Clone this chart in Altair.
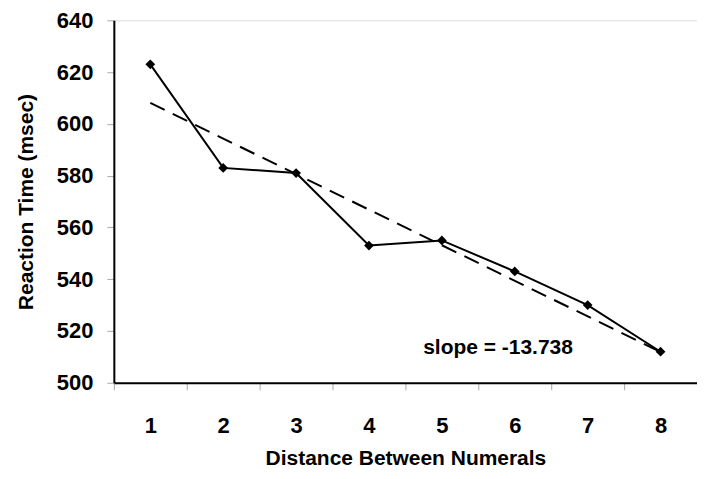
import altair as alt
import pandas as pd

distance = [1, 2, 3, 4, 5, 6, 7, 8]
reaction_time = [623, 583, 581, 553, 555, 543, 530, 512]
slope_label = ["slope = -13.738"]
slope_x = [5.77]
slope_y = [513.5]

df = pd.DataFrame({"x": distance, "y": reaction_time})
lab = pd.DataFrame({"x": slope_x, "y": slope_y, "t": slope_label})

FONT = "Liberation Sans"
W, H = 584, 363
band = W / 8.0

xscale = alt.Scale(domain=[0.5, 8.5], nice=False, zero=False)
yscale = alt.Scale(domain=[500, 640], nice=False, zero=False)

xaxis = alt.Axis(
    title="Distance Between Numerals",
    values=distance + [9],
    format="d",
    tickOffset=-band / 2,
    labelOffset=band / 2,
    labelExpr="datum.value > 8.5 ? '' : datum.label",
    labelOverlap=False,
    grid=False,
    tickColor="#aaaaaa",
    tickSize=7,
    tickWidth=1,
    labelPadding=26,
    labelFontSize=22,
    labelFontWeight="bold",
    labelFont=FONT,
    labelColor="black",
    titleFontSize=21,
    titleFontWeight="bold",
    titleFont=FONT,
    titleColor="black",
    titlePadding=11,
    domainColor="black",
    domainWidth=2,
)
yaxis = alt.Axis(
    title="Reaction Time (msec)",
    values=[500, 520, 540, 560, 580, 600, 620, 640],
    grid=False,
    tickColor="#aaaaaa",
    tickSize=7,
    tickWidth=1,
    labelPadding=14,
    labelFontSize=22,
    labelFontWeight="bold",
    labelFont=FONT,
    labelColor="black",
    titleFontSize=21,
    titleFontWeight="bold",
    titleFont=FONT,
    titleColor="black",
    titlePadding=20,
    domainColor="black",
    domainWidth=2,
)

base = alt.Chart(df)

line = base.mark_line(color="black", strokeWidth=2).encode(
    x=alt.X("x:Q", scale=xscale, axis=xaxis),
    y=alt.Y("y:Q", scale=yscale, axis=yaxis),
)
pts = base.mark_point(shape="diamond", filled=True, color="black", size=95, opacity=1).encode(
    x="x:Q", y="y:Q"
)
reg = base.transform_regression("x", "y").mark_line(
    color="black", strokeWidth=2, strokeDash=[16, 9]
).encode(x="x:Q", y="y:Q")
txt = alt.Chart(lab).mark_text(
    font=FONT, fontSize=21, fontWeight="bold", color="black"
).encode(x="x:Q", y="y:Q", text="t:N")

chart = (
    alt.layer(reg, line, pts, txt)
    .properties(
        width=W,
        height=H,
        autosize=alt.AutoSizeParams(type="none"),
        padding={"left": 106, "top": 12, "right": 0, "bottom": 88},
    )
    .configure_view(stroke="black", strokeWidth=2)
    .configure(background="white")
)

chart.save("out.html", embed_options={"renderer": "svg", "actions": False})
